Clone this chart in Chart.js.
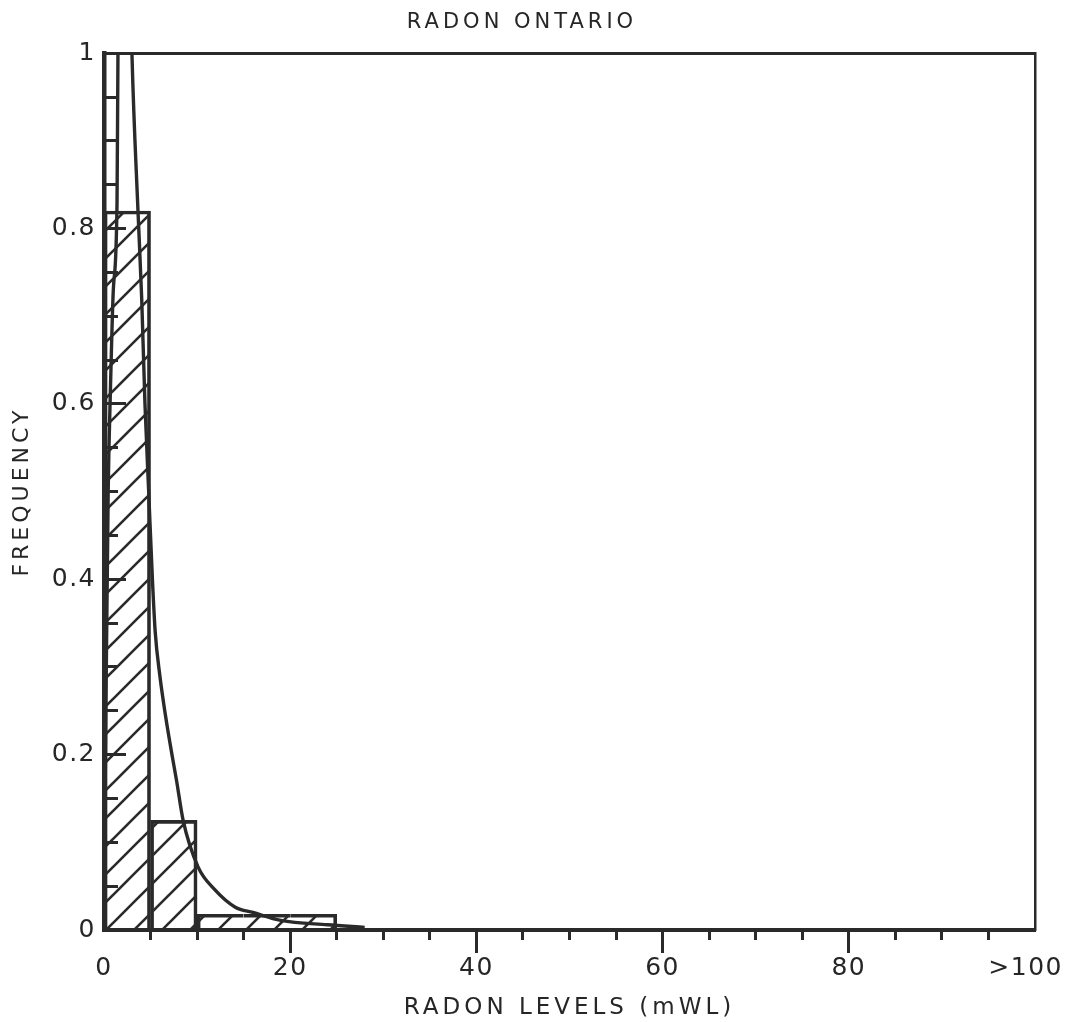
<!DOCTYPE html>
<html><head><meta charset="utf-8">
<script src="https://cdn.jsdelivr.net/npm/chart.js@4"></script>
<style>html,body{margin:0;padding:0;background:#fff;} canvas{display:block;}</style>
</head><body>
<canvas id="c" width="1067" height="1022"></canvas>
<script>
// ---- data ----
const binCenters = [2.5, 7.5, 12.5, 17.5, 22.5];
const binFrequencies = [0.82, 0.125, 0.018, 0.018, 0.018];
const curveX = [0, 0.2, 0.45, 0.7, 1.0, 1.4, 1.5, 2.2, 3.0, 3.65, 4.05, 4.4, 4.8, 5.2, 5.5, 6.0, 6.6, 7.3, 7.8, 8.5, 10.1, 11.9, 14.1, 16, 19, 24, 28];
const curveY = [0, 0.25, 0.5, 0.62, 0.73, 0.83, 1.0, 1.4, 1.0, 0.82, 0.72, 0.6, 0.5, 0.4, 0.34, 0.29, 0.245, 0.2, 0.17, 0.125, 0.072, 0.046, 0.026, 0.02, 0.011, 0.006, 0.003];
// the ">100" label sits just left of the right frame in the original
const xTickValues = [0, 20, 40, 60, 80, 99];
const xTickLabels = ['0', '20', '40', '60', '80', '>100'];
const yTickValues = [0, 0.2, 0.4, 0.6, 0.8, 1];
const yTickLabels = ['0', '0.2', '0.4', '0.6', '0.8', '1'];
const chartTitle = 'RADON ONTARIO';
const xTitle = 'RADON LEVELS (mWL)';
const yTitle = 'FREQUENCY';

// ---- style ----
const INK = '#2a2a2a';
const TXT = '#262626';
const FONT = "'DejaVu Sans', sans-serif";

function hatch() {
  const s = 28, c = document.createElement('canvas');
  c.width = s; c.height = s;
  const g = c.getContext('2d');
  g.strokeStyle = INK; g.lineWidth = 2.6; g.lineCap = 'square';
  for (const k of [-s, 0, s]) {
    g.beginPath(); g.moveTo(k, s); g.lineTo(k + s, 0); g.stroke();
  }
  return g.createPattern(c, 'repeat');
}

const spacing = {
  id: 'spacing',
  beforeLayout(chart) { chart.ctx.letterSpacing = '4px'; },
  beforeDraw(chart) {
    const ctx = chart.ctx;
    ctx.letterSpacing = '4px';
    for (const s of Object.values(chart.scales)) {
      if (s._lsWrapped) continue;
      const orig = s.drawLabels;
      s.drawLabels = function (area) {
        const prev = this.ctx.letterSpacing;
        this.ctx.letterSpacing = '1.5px';
        orig.call(this, area);
        this.ctx.letterSpacing = prev;
      };
      s._lsWrapped = true;
    }
    ctx.save(); ctx.fillStyle = '#fff'; ctx.fillRect(0, 0, chart.width, chart.height); ctx.restore();
  }
};

const barBorders = binCenters.map((_, i) => {
  if (i === 2) return {top: 3, left: 3, right: 0, bottom: 0};
  if (i === 3) return {top: 3, left: 0, right: 0, bottom: 0};
  if (i === 4) return {top: 3, left: 0, right: 3, bottom: 0};
  return {top: 3, left: 3, right: 3, bottom: 0};
});

const fixW = w => s => { s.width = w; };
const fixH = h => s => { s.height = h; s.paddingLeft = 0; s.paddingRight = 0; };
const hideEnds = c => (c.tick && (c.tick.value === 0 || c.tick.value >= 99)) ? 'rgba(0,0,0,0)' : INK;

new Chart(document.getElementById('c'), {
  type: 'bar',
  data: {
    datasets: [
      {
        type: 'line',
        data: curveX.map((x, i) => ({x, y: curveY[i]})),
        borderColor: INK, borderWidth: 3.4, pointRadius: 0,
        cubicInterpolationMode: 'monotone', fill: false, order: 0,
        xAxisID: 'x', yAxisID: 'y'
      },
      {
        type: 'bar',
        data: binCenters.map((x, i) => ({x, y: binFrequencies[i]})),
        backgroundColor: hatch(), borderColor: INK, borderWidth: barBorders,
        borderSkipped: false, barPercentage: 1, categoryPercentage: 1, order: 1,
        xAxisID: 'x', yAxisID: 'y'
      }
    ]
  },
  options: {
    responsive: false, animation: false, devicePixelRatio: 1,
    layout: {padding: {left: 9, right: 32, top: 0, bottom: 0}},
    plugins: {
      legend: {display: false}, tooltip: {enabled: false},
      title: {display: true, text: chartTitle, color: TXT,
        font: {family: FONT, size: 21, weight: 'normal', lineHeight: 1.2},
        padding: {top: 10, bottom: 18}}
    },
    scales: {
      x: {
        type: 'linear', position: 'bottom', weight: 1, min: 0, max: 100, offset: false,
        afterBuildTicks: s => { s.ticks = xTickValues.map(v => ({value: v})); },
        ticks: {autoSkip: false, maxRotation: 0, padding: 0, color: TXT,
          font: {family: FONT, size: 25, lineHeight: 1.2},
          callback: v => xTickLabels[xTickValues.indexOf(v)]},
        grid: {display: true, drawOnChartArea: false, offset: false, tickLength: 23, tickWidth: 3,
          tickColor: hideEnds},
        border: {display: true, color: INK, width: 4},
        title: {display: true, text: xTitle, color: TXT,
          font: {family: FONT, size: 23, lineHeight: 1.2}, padding: 0},
        afterFit: fixH(92)
      },
      xMinor: {
        type: 'linear', position: 'bottom', weight: 0, min: 0, max: 100, offset: false,
        ticks: {stepSize: 5, autoSkip: false, callback: () => '', display: true, padding: 0},
        grid: {display: true, drawOnChartArea: false, offset: false, tickLength: 10, tickWidth: 3,
          tickColor: hideEnds},
        border: {display: false},
        afterFit: fixH(0)
      },
      xTop: {
        type: 'linear', position: 'top', min: 0, max: 100,
        ticks: {display: false}, grid: {display: false, drawTicks: false},
        border: {display: true, color: INK, width: 3},
        afterFit: fixH(0)
      },
      y: {
        type: 'linear', position: 'left', weight: 1, min: 0, max: 1,
        afterBuildTicks: s => { s.ticks = yTickValues.map(v => ({value: v})); },
        ticks: {autoSkip: false, padding: 30, color: TXT,
          font: {family: FONT, size: 25, lineHeight: 1.2},
          callback: v => yTickLabels[yTickValues.indexOf(v)]},
        grid: {display: true, drawOnChartArea: false, tickLength: -22, tickWidth: 3, tickColor: INK},
        border: {display: true, color: INK, width: 4.5},
        title: {display: true, text: yTitle, color: TXT,
          font: {family: FONT, size: 22, lineHeight: 1.2}, padding: 0},
        afterFit: fixW(95)
      },
      yMinor: {
        type: 'linear', position: 'left', weight: 0, min: 0, max: 1,
        ticks: {stepSize: 0.05, autoSkip: false, callback: () => '', padding: 0},
        grid: {display: true, drawOnChartArea: false, tickLength: -14, tickWidth: 3, tickColor: INK},
        border: {display: false},
        afterFit: fixW(0)
      },
      yRight: {
        type: 'linear', position: 'right', min: 0, max: 1,
        ticks: {display: false}, grid: {display: false, drawTicks: false},
        border: {display: true, color: INK, width: 2.5},
        afterFit: fixW(0)
      }
    }
  },
  plugins: [spacing]
});
</script>
</body></html>
